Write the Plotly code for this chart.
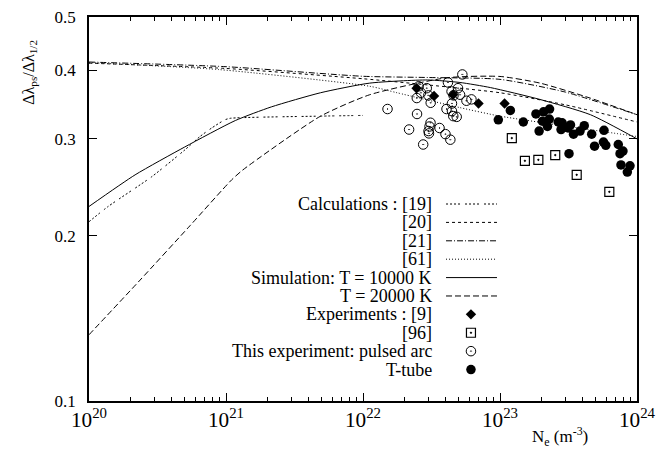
import plotly.graph_objects as go

# ---------------- data ----------------
# Calculations
ne_c19 = [1e20, 1.38e20, 2.87e20, 5.02e20, 6.46e20, 7.86e20, 9.83e20, 1.07e21, 4.85e21, 1e22]
v_c19 = [0.212, 0.226, 0.256, 0.2866, 0.303, 0.314, 0.325, 0.327, 0.330, 0.331]

ne_c20 = [1e20, 1e21, 1e22, 3e22, 1e23, 3e23, 1e24]
v_c20 = [0.412, 0.403, 0.386, 0.376, 0.364, 0.346, 0.322]

ne_c21 = [1e20, 1e21, 1e22, 3e22, 1e23, 3e23, 1e24]
v_c21 = [0.414, 0.406, 0.390, 0.388, 0.385, 0.365, 0.332]

ne_c61 = [1e20, 9.0e20, 1.12e22, 1.77e22, 5.1e22, 1e23, 3.16e23, 1e24]
v_c61 = [0.413, 0.401, 0.374, 0.364, 0.342, 0.330, 0.316, 0.303]

# Simulation
ne_s10 = [1e20, 2.17e20, 5.0e20, 1.17e21, 2.14e21, 4.9e21, 1.12e22, 2.95e22, 5.1e22, 8.5e22, 1.95e23, 4.57e23, 1e24]
v_s10 = [0.226, 0.258, 0.290, 0.324, 0.343, 0.364, 0.379, 0.384, 0.380, 0.372, 0.354, 0.332, 0.300]

ne_s20 = [1e20, 2.36e20, 5.46e20, 1.1e21, 1.33e21, 4.85e21, 1.12e22, 4.1e22, 1e23, 1.96e23, 4.54e23, 1e24]
v_s20 = [0.132, 0.166, 0.2085, 0.2527, 0.2635, 0.3295, 0.361, 0.3876, 0.3897, 0.379, 0.356, 0.332]

# Experiments [9]
ne_e9 = [2.46e22, 3.30e22, 4.54e22, 6.97e22, 1.08e23]
v_e9 = [0.371, 0.359, 0.361, 0.348, 0.348]

# Experiments [96]
ne_e96 = [1.22e23, 1.52e23, 1.905e23, 2.53e23, 3.63e23, 6.28e23]
v_e96 = [0.301, 0.2736, 0.2748, 0.2803, 0.258, 0.2403]

# This experiment: pulsed arc
ne_arc = [1.51e22, 2.48e22, 2.17e22, 2.75e22, 2.55e22, 2.92e22, 2.65e22, 2.47e22, 3.00e22, 3.12e22,
          3.11e22, 3.06e22, 3.01e22, 3.03e22, 3.62e22, 4.00e22, 4.34e22, 4.17e22, 4.43e22, 4.94e22,
          5.11e22, 4.58e22, 4.07e22, 4.46e22, 4.56e22, 4.83e22, 5.31e22, 5.69e22, 6.19e22, 4.46e22]
v_arc = [0.340, 0.333, 0.312, 0.293, 0.374, 0.371, 0.364, 0.356, 0.360, 0.349,
         0.321, 0.316, 0.310, 0.307, 0.314, 0.306, 0.299, 0.380, 0.366, 0.371,
         0.361, 0.360, 0.340, 0.337, 0.330, 0.329, 0.393, 0.352, 0.354, 0.348]

# This experiment: T-tube
ne_tt = [9.72e22, 1.19e23, 1.48e23, 1.83e23, 1.93e23, 2.08e23, 2.30e23, 2.04e23, 2.22e23, 2.29e23,
         2.66e23, 2.84e23, 2.79e23, 3.27e23, 3.14e23, 3.44e23, 3.84e23, 4.12e23, 4.67e23, 5.74e23,
         4.90e23, 5.69e23, 5.92e23, 7.30e23, 7.52e23, 7.90e23, 3.19e23, 7.64e23, 8.89e23, 8.50e23]
v_tt = [0.325, 0.338, 0.322, 0.333, 0.310, 0.336, 0.340, 0.323, 0.316, 0.326,
        0.322, 0.321, 0.312, 0.318, 0.314, 0.306, 0.310, 0.317, 0.306, 0.311,
        0.291, 0.296, 0.292, 0.293, 0.282, 0.285, 0.282, 0.269, 0.268, 0.261]

y_ticks = [0.1, 0.2, 0.3, 0.4, 0.5]
y_tick_labels = ["0.1", "0.2", "0.3", "0.4", "0.5"]

legend_labels = ["Calculations : [19]", "[20]", "[21]", "[61]", "Simulation: T = 10000 K",
                 "T = 20000 K", "Experiments : [9]", "[96]", "This experiment: pulsed arc", "T-tube"]

# ---------------- styles ----------------
FONT = "Liberation Serif"
K = "black"
dash19 = "2px,2px,2px,2px,2px,2px,2px,5px"
dash20 = "3px,3px"
dash21 = "6px,2px,1px,2px"
dash61 = "1px,2px"
dash_s20 = "6px,3px"

line_styles = [
    (ne_c19, v_c19, dash19),
    (ne_c20, v_c20, dash20),
    (ne_c21, v_c21, dash21),
    (ne_c61, v_c61, dash61),
    (ne_s10, v_s10, "solid"),
    (ne_s20, v_s20, dash_s20),
]

fig = go.Figure()

for xs, ys, d in line_styles:
    fig.add_trace(go.Scatter(x=xs, y=ys, mode="lines",
                             line=dict(color=K, width=1, dash=d, shape="spline", smoothing=0.6),
                             showlegend=False, hoverinfo="skip"))

marker_sets = [
    (ne_e9, v_e9, dict(symbol="diamond", size=8, color=K, line=dict(width=0))),
    (ne_e96, v_e96, dict(symbol="square-open-dot", size=9, color=K, line=dict(width=1.2))),
    (ne_arc, v_arc, dict(symbol="circle-open-dot", size=9.5, color=K, line=dict(width=1))),
    (ne_tt, v_tt, dict(symbol="circle", size=9.5, color=K, line=dict(width=0))),
]
for xs, ys, m in marker_sets:
    fig.add_trace(go.Scatter(x=xs, y=ys, mode="markers", marker=m, showlegend=False, hoverinfo="skip"))

# ---------------- custom legend (overlay axes 0..1) ----------------
row_y = [0.513 - i * 0.0479 for i in range(10)]
x_text = 0.6296
x_l0, x_l1, x_m = 0.6515, 0.7445, 0.697
for i, (_, _, d) in enumerate(line_styles):
    fig.add_trace(go.Scatter(x=[x_l0, x_l1], y=[row_y[i], row_y[i]], mode="lines", xaxis="x2", yaxis="y2",
                             line=dict(color=K, width=1, dash=d), showlegend=False, hoverinfo="skip"))
for j, (_, _, m) in enumerate(marker_sets):
    i = 6 + j
    fig.add_trace(go.Scatter(x=[x_m], y=[row_y[i]], mode="markers", xaxis="x2", yaxis="y2",
                             marker=m, showlegend=False, hoverinfo="skip"))
annotations = []
for i, lab in enumerate(legend_labels):
    annotations.append(dict(x=x_text, y=row_y[i], xref="paper", yref="paper", text=lab, showarrow=False,
                            xanchor="right", yanchor="middle", font=dict(family=FONT, size=18, color=K)))

annotations.append(dict(x=-0.108, y=0.857, xref="paper", yref="paper",
                        text="Δλ<sub>ps</sub>/Δλ<sub>1/2</sub>", textangle=-90, showarrow=False,
                        xanchor="center", yanchor="middle", font=dict(family=FONT, size=16, color=K)))
annotations.append(dict(x=0.86, y=-0.093, xref="paper", yref="paper",
                        text="N<sub>e</sub> (m<sup>-3</sup>)", showarrow=False,
                        xanchor="center", yanchor="middle", font=dict(family=FONT, size=17, color=K)))

# page body has an 8px offset: figure is 661x442, plot area lands at x 89..637, y 17..401
fig.update_layout(
    width=661, height=442, autosize=False,
    margin=dict(l=81, r=32, t=9, b=49),
    paper_bgcolor="white", plot_bgcolor="white",
    font=dict(family=FONT, size=17, color=K),
    showlegend=False,
    annotations=annotations,
    xaxis=dict(type="log", range=[20, 24], dtick=1, exponentformat="power", showexponent="all",
               ticks="inside", ticklen=8, tickwidth=1, tickcolor=K, showline=True, linecolor=K, linewidth=1.5,
               mirror="ticks", showgrid=False, zeroline=False, automargin=False, ticklabeloverflow="allow",
               minor=dict(ticks="inside", ticklen=4, tickwidth=1, tickcolor=K, dtick="D1", showgrid=False),
               tickfont=dict(family=FONT, size=17, color=K)),
    yaxis=dict(type="log", range=[-1, -0.30103], tickvals=y_ticks, ticktext=y_tick_labels,
               ticks="inside", ticklen=8, tickwidth=1, tickcolor=K, showline=True, linecolor=K, linewidth=1.5,
               mirror="ticks", showgrid=False, zeroline=False, ticklabelstandoff=8, automargin=False,
               ticklabeloverflow="allow",
               tickfont=dict(family=FONT, size=17, color=K)),
    xaxis2=dict(overlaying="x", range=[0, 1], visible=False, showgrid=False),
    yaxis2=dict(overlaying="y", range=[0, 1], visible=False, showgrid=False),
)

fig.write_html("out.html")
